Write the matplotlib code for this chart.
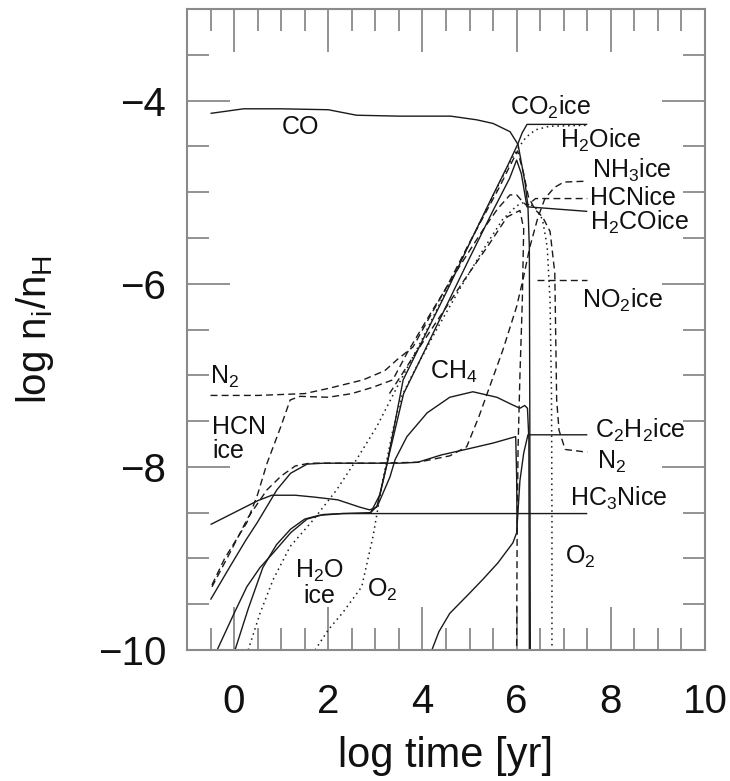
"""
Abundances vs. time: log n_i/n_H for gas and ice species.
"""
import matplotlib
matplotlib.use("Agg")
import matplotlib.pyplot as plt
from matplotlib.ticker import MultipleLocator

plt.rcParams['font.family'] = ['Liberation Sans', 'DejaVu Sans']
plt.rcParams['mathtext.fontset'] = 'custom'
plt.rcParams['mathtext.rm'] = 'Liberation Sans'
plt.rcParams['mathtext.default'] = 'rm'

# ---- solid curves ----
co_x = [-0.5, 0.2, 1.0, 2.0, 2.6, 3.5, 4.6, 5.15, 5.5, 5.86, 6.03, 6.18, 6.24, 6.27, 6.28, 6.29]
co_y = [-4.14, -4.09, -4.09, -4.10, -4.16, -4.17, -4.17, -4.21, -4.25, -4.34, -4.48, -4.9, -5.16, -5.6, -7.5, -10.0]

co2ice_x = [-0.5, 0.0, 0.5, 0.8, 1.3, 1.7, 2.2, 2.67, 2.88, 3.03, 3.25, 3.59, 3.8, 4.0, 4.5, 5.0, 5.5, 5.8, 6.02, 6.12, 6.22, 7.5]
co2ice_y = [-8.63, -8.5, -8.37, -8.31, -8.31, -8.33, -8.36, -8.44, -8.47, -8.44, -7.96, -7.05, -6.83, -6.62, -6.1, -5.56, -5.03, -4.72, -4.48, -4.35, -4.26, -4.26]

h2coice_x = [2.9, 3.1, 3.3, 3.6, 4.0, 4.5, 5.0, 5.5, 5.85, 6.0, 6.1, 6.22, 7.5]
h2coice_y = [-8.5, -8.3, -7.85, -7.2, -6.78, -6.25, -5.72, -5.2, -4.85, -4.65, -4.8, -5.16, -5.21]

ch4_x = [0.02, 0.3, 0.61, 0.9, 1.2, 1.5, 1.8, 2.3, 2.9, 3.05, 3.16, 3.31, 3.42, 3.67, 4.1, 4.58, 5.07, 5.58, 5.9, 6.07, 6.17, 6.23, 6.26, 6.27]
ch4_y = [-10.0, -9.55, -9.1, -8.85, -8.68, -8.57, -8.53, -8.51, -8.5, -8.42, -8.29, -8.11, -7.92, -7.67, -7.41, -7.24, -7.18, -7.24, -7.32, -7.36, -7.33, -7.36, -7.7, -10.0]

hc3nice_x = [-0.36, 0.0, 0.27, 0.55, 0.83, 1.2, 1.55, 1.9, 2.3, 7.5]
hc3nice_y = [-10.0, -9.6, -9.31, -9.1, -8.94, -8.72, -8.57, -8.52, -8.51, -8.51]

c2h2_x = [-0.5, -0.1, 0.25, 0.49, 0.91, 1.2, 1.55, 1.9, 2.5, 3.5, 3.9, 4.4, 5.0, 5.5, 5.98, 6.0, 6.01]
c2h2_y = [-9.45, -9.1, -8.8, -8.61, -8.25, -8.07, -7.97, -7.96, -7.96, -7.96, -7.95, -7.87, -7.8, -7.74, -7.67, -8.1, -8.72]

c2h2ice_x = [4.2, 4.35, 4.58, 5.0, 5.28, 5.6, 5.92, 6.0, 6.07, 6.15, 6.24, 7.5]
c2h2ice_y = [-10.0, -9.8, -9.6, -9.38, -9.23, -9.05, -8.83, -8.72, -8.15, -7.85, -7.65, -7.65]

# ---- dashed curves ----
n2_x = [-0.5, 0.5, 1.5, 2.03, 2.74, 3.2, 3.46, 3.8, 4.2, 4.52, 5.0, 5.64, 5.85, 6.02, 6.15, 6.25, 6.39, 6.55, 6.71, 6.81, 6.85, 6.9, 7.03, 7.5]
n2_y = [-7.22, -7.22, -7.2, -7.14, -7.05, -6.95, -6.83, -6.69, -6.32, -6.03, -5.55, -4.94, -4.72, -4.55, -4.8, -5.05, -5.19, -5.27, -5.43, -5.88, -7.27, -7.6, -7.81, -7.84]

hcnice_x = [-0.47, -0.2, 0.27, 0.5, 0.7, 1.0, 1.19, 1.4, 2.0, 2.5, 2.95, 3.37, 3.67, 4.2, 4.8, 5.3, 5.6, 5.86, 6.0, 6.12, 6.22, 6.4, 7.5]
hcnice_y = [-9.29, -9.0, -8.61, -8.3, -7.96, -7.55, -7.27, -7.23, -7.24, -7.2, -7.13, -7.05, -6.76, -6.3, -5.8, -5.4, -5.18, -5.03, -5.03, -5.1, -5.15, -5.07, -5.07]

nh3ice_x = [-0.47, -0.1, 0.3, 0.7, 1.0, 1.3, 1.6, 2.0, 3.0, 3.9, 4.58, 4.94, 5.2, 5.43, 5.71, 6.0, 6.15, 6.28, 6.45, 6.6, 6.8, 7.0, 7.5]
nh3ice_y = [-9.31, -8.95, -8.55, -8.25, -8.1, -7.99, -7.96, -7.96, -7.96, -7.95, -7.88, -7.78, -7.45, -7.12, -6.72, -6.25, -5.92, -5.6, -5.28, -5.07, -4.95, -4.89, -4.88]

hcn_x = [3.3, 3.8, 4.37, 4.9, 5.4, 5.8, 6.07, 6.15, 6.12, 6.07, 6.03, 6.01, 6.0]
hcn_y = [-7.2, -6.8, -6.36, -5.95, -5.58, -5.27, -5.2, -5.4, -6.2, -7.0, -7.8, -8.8, -10.0]

no2ice_x = [6.43, 7.5]
no2ice_y = [-5.96, -5.96]

# ---- dotted curves ----
h2oice_x = [0.3, 0.55, 0.83, 1.19, 1.68, 2.18, 2.6, 3.03, 3.46, 4.0, 4.5, 5.0, 5.5, 5.85, 6.03, 6.2, 6.4, 6.7, 7.5]
h2oice_y = [-10.0, -9.6, -9.23, -8.87, -8.58, -8.25, -7.92, -7.56, -7.13, -6.6, -6.08, -5.56, -5.04, -4.68, -4.52, -4.4, -4.32, -4.28, -4.27]

o2_x = [1.72, 2.0, 2.31, 2.71, 2.95, 3.16, 3.37, 3.55, 3.8, 4.3, 4.8, 5.3, 5.7, 6.0, 6.2, 6.4, 6.55, 6.65, 6.71, 6.74, 6.75, 6.75]
o2_y = [-10.0, -9.78, -9.59, -9.31, -8.76, -8.14, -7.6, -7.24, -6.98, -6.5, -6.05, -5.62, -5.3, -5.15, -5.1, -5.17, -5.3, -5.6, -6.2, -7.2, -8.5, -10.0]

# labels: (text, x, y, horizontal alignment)
etiquetas = [
    ("CO", 1.4, -4.29, "center"),
    ("CO$_2$ice", 5.86, -4.07, "left"),
    ("H$_2$Oice", 6.92, -4.43, "left"),
    ("NH$_3$ice", 7.6, -4.76, "left"),
    ("HCNice", 7.56, -5.06, "left"),
    ("H$_2$COice", 7.56, -5.33, "left"),
    ("NO$_2$ice", 7.39, -6.18, "left"),
    ("N$_2$", -0.51, -7.02, "left"),
    ("CH$_4$", 4.16, -6.96, "left"),
    ("HCN\nice", -0.47, -7.70, "left"),
    ("C$_2$H$_2$ice", 7.66, -7.6, "left"),
    ("N$_2$", 7.7, -7.95, "left"),
    ("HC$_3$Nice", 7.13, -8.34, "left"),
    ("O$_2$", 7.03, -8.98, "left"),
    ("H$_2$O\nice", 1.82, -9.27, "center"),
    ("O$_2$", 2.82, -9.34, "left"),
]

fig = plt.figure(figsize=(7.3, 7.81), dpi=100)
ax = fig.add_axes([187 / 730, 1 - 650 / 781, 518 / 730, 641 / 781])

cor = "#1a1a1a"
tracejado = (0, (5, 3))
pontilhado = (0, (1, 2.5))

for xs, ys in [(co_x, co_y), (co2ice_x, co2ice_y), (h2coice_x, h2coice_y),
               (ch4_x, ch4_y), (hc3nice_x, hc3nice_y), (c2h2_x, c2h2_y),
               (c2h2ice_x, c2h2ice_y)]:
    ax.plot(xs, ys, color=cor, lw=1.0, solid_capstyle="butt")

for xs, ys in [(n2_x, n2_y), (hcnice_x, hcnice_y), (nh3ice_x, nh3ice_y),
               (hcn_x, hcn_y), (no2ice_x, no2ice_y)]:
    ax.plot(xs, ys, color=cor, lw=1.0, linestyle=tracejado)

for xs, ys in [(h2oice_x, h2oice_y), (o2_x, o2_y)]:
    ax.plot(xs, ys, color=cor, lw=1.1, linestyle=pontilhado)

for texto, x, y, ha in etiquetas:
    ax.text(x, y, texto, fontsize=18, ha=ha, va="center", color="#111",
            linespacing=1.0, multialignment="center" if ha == "center" else "left")

ax.set_xlim(-1, 10)
ax.set_ylim(-10, -3)
ax.xaxis.set_major_locator(MultipleLocator(2))
ax.xaxis.set_minor_locator(MultipleLocator(0.5))
ax.yaxis.set_major_locator(MultipleLocator(2))
ax.yaxis.set_minor_locator(MultipleLocator(0.5))

cinza = "#8a8a8a"
for lado in ax.spines.values():
    lado.set_color(cinza)
    lado.set_linewidth(1.5)
ax.tick_params(which="both", direction="in", top=True, right=True,
               color=cinza, width=1.3, labelsize=29, labelcolor="#111")
ax.tick_params(which="major", length=31)
ax.tick_params(which="minor", length=16)
ax.tick_params(axis="x", pad=24)
ax.tick_params(axis="y", pad=15)

ax.set_xlabel("log time [yr]", fontsize=30, color="#111")
ax.xaxis.set_label_coords(0.5, (650 - 756) / 641)
ax.xaxis.label.set_va("center")
ax.set_ylabel("log n$_{i}$/n$_{H}$", fontsize=29, color="#111")
ax.yaxis.set_label_coords((35 - 187) / 518, 0.5)
ax.yaxis.label.set_va("center")

plt.savefig("out.png", dpi=100)
